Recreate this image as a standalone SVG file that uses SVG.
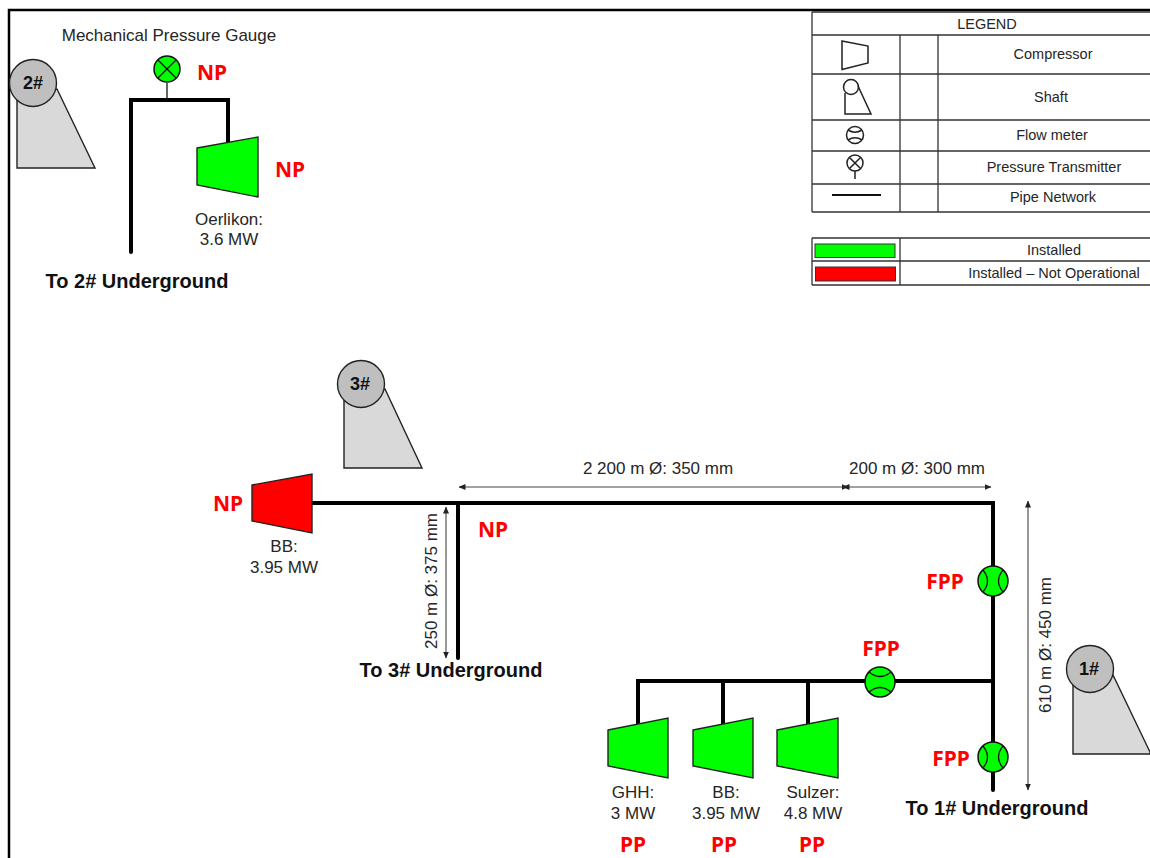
<svg xmlns="http://www.w3.org/2000/svg" width="1150" height="858" viewBox="0 0 1150 858">
<style>
text{font-family:"Liberation Sans",Arial,sans-serif;fill:#262626}
.l{font-size:17px;text-anchor:middle}
.lg{font-size:14.5px;text-anchor:middle}
.h{font-size:20px;font-weight:bold;text-anchor:middle;fill:#111}
.s{font-size:18px;font-weight:bold;text-anchor:middle;fill:#111}
.r{font-family:"Noto Sans","Open Sans",sans-serif;font-size:21px;font-weight:bold;text-anchor:middle;fill:#f00}
.pipe{fill:none;stroke:#000;stroke-width:4;stroke-linecap:round;stroke-linejoin:miter}
.grid{fill:none;stroke:#333;stroke-width:1.3}
.dim{fill:none;stroke:#444;stroke-width:1.1;marker-start:url(#a);marker-end:url(#a)}
.comp{fill:#0f0;stroke:#222;stroke-width:1.4}
.shaft{fill:#d9d9d9;stroke:#222;stroke-width:1.4}
.disc{fill:#bfbfbf;stroke:#222;stroke-width:1.4}
.meter{fill:#0f0;stroke:#111;stroke-width:1.5}
.thin{fill:none;stroke:#111;stroke-width:1.3}
.sym{fill:none;stroke:#222;stroke-width:1.5}
</style>
<defs>
<marker id="a" viewBox="0 0 7 7" refX="6.500" refY="3.500" markerWidth="7" markerHeight="7" orient="auto-start-reverse" markerUnits="userSpaceOnUse"><path d="M0 0.500L7 3.500L0 6.500Z" fill="#222"/></marker>
<g id="fv"><circle r="15" class="meter"/><path class="thin" d="M-10-11Q-1 0-10 11M10-11Q1 0 10 11"/></g>
</defs>
<rect width="1150" height="858" fill="#fff"/>
<path d="M9 858V10H1150" fill="none" stroke="#000" stroke-width="2.500"/>

<g id="connectors">
<path class="pipe" d="M131 252V100H228V143"/>
<path class="thin" d="M167 83V100"/>
<path class="pipe" d="M312 503H993V790"/>
<path class="pipe" d="M458 503V658"/>
<path class="pipe" d="M993 681H638V725"/>
<path class="pipe" d="M723 681V724M808 681V724"/>
<path class="dim" d="M446 507V658"/>
<path class="dim" d="M459 487H848"/>
<path class="dim" d="M843 487H991"/>
<path class="dim" d="M1028 501V790"/>
</g>

<g id="legend">
<path class="grid" d="M812 12H1150M812 35H1150M812 74H1150M812 120H1150M812 151H1150M812 184H1150M812 212H1150M812 12V212M900 35V212M938 35V212"/>
<text class="lg" x="987" y="29">LEGEND</text>
<text class="lg" x="1053" y="59">Compressor</text>
<text class="lg" x="1051" y="102">Shaft</text>
<text class="lg" x="1052" y="140">Flow meter</text>
<text class="lg" x="1054" y="172">Pressure Transmitter</text>
<text class="lg" x="1053" y="202">Pipe Network</text>
<path class="sym" d="M842 41L868 46V63L842 69.500Z"/>
<path class="sym" d="M845 93V114H871L858 86"/><circle class="sym" cx="851" cy="87" r="7.500"/>
<circle class="sym" cx="855" cy="135" r="8.500"/><path class="sym" d="M848 130Q855 134.500 862 130M848 140Q855 135.500 862 140"/>
<circle class="sym" cx="855" cy="163" r="8"/><path class="sym" d="M849.500 157.500L860.500 168.500M860.500 157.500L849.500 168.500M855 171V179"/>
<path d="M832 195H881" stroke="#111" stroke-width="1.800"/>
<path class="grid" d="M812 238H1150M812 261H1150M812 285H1150M812 238V285M900 238V285"/>
<rect x="815" y="244" width="80" height="13.500" fill="#0f0" stroke="#333"/>
<rect x="815.500" y="267" width="80" height="14" fill="#f00" stroke="#333"/>
<text class="lg" x="1054" y="255">Installed</text>
<text class="lg" x="1054" y="278">Installed – Not Operational</text>
</g>

<g id="shaft-2"><path class="shaft" d="M17 100V168H95L57 89Z"/><circle class="disc" cx="33" cy="83" r="23.500"/><text class="s" x="33" y="89">2#</text></g>
<g id="shaft-3"><path class="shaft" d="M344 400V468H422L385 389Z"/><circle class="disc" cx="361" cy="384" r="23.500"/><text class="s" x="360" y="390">3#</text></g>
<g id="shaft-1"><path class="shaft" d="M1073 680V754H1150V752L1113 675Z"/><circle class="disc" cx="1090" cy="669" r="23.500"/><text class="s" x="1089" y="675">1#</text></g>

<g id="gauge"><circle class="meter" cx="167" cy="69" r="13"/><path class="thin" d="M158 60L176 78M176 60L158 78"/>
<text class="l" x="169" y="41">Mechanical Pressure Gauge</text><text class="r" x="212" y="80">NP</text></g>

<g id="oerlikon"><path class="comp" d="M197 148L258 137V197L197 185Z"/><text class="r" x="290" y="177">NP</text>
<text class="l" x="229" y="225">Oerlikon:</text><text class="l" x="229" y="245">3.6 MW</text></g>
<text class="h" x="137" y="288">To 2# Underground</text>

<g id="bb-red"><path class="comp" style="fill:#f00" d="M252 485L312 474V533L252 521Z"/><text class="r" x="228" y="511">NP</text>
<text class="l" x="284" y="552">BB:</text><text class="l" x="284" y="573">3.95 MW</text></g>
<text class="r" x="493" y="537">NP</text>
<text class="h" x="451" y="677">To 3# Underground</text>
<text class="l" transform="translate(437 581) rotate(-90)">250 m Ø: 375 mm</text>
<text class="l" x="658" y="474">2 200 m Ø: 350 mm</text>
<text class="l" x="917" y="474">200 m Ø: 300 mm</text>
<text class="l" transform="translate(1051 645) rotate(-90)">610 m Ø: 450 mm</text>

<g id="fm-1"><use href="#fv" x="993" y="581"/><text class="r" x="945" y="589">FPP</text></g>
<g id="fm-2"><use href="#fv" transform="translate(880 682) rotate(90)"/><text class="r" x="881" y="656">FPP</text></g>
<g id="fm-3"><use href="#fv" x="993" y="757"/><text class="r" x="951" y="766">FPP</text></g>
<text class="h" x="997" y="815">To 1# Underground</text>

<g id="ghh"><path class="comp" d="M608 730L668 718V778L608 766Z"/><text class="l" x="633" y="798">GHH:</text><text class="l" x="633" y="819">3 MW</text><text class="r" x="633" y="852">PP</text></g>
<g id="bb"><path class="comp" d="M693 730L753 718V778L693 766Z"/><text class="l" x="726" y="798">BB:</text><text class="l" x="726" y="819">3.95 MW</text><text class="r" x="724" y="852">PP</text></g>
<g id="sulzer"><path class="comp" d="M777 730L838 718V778L777 766Z"/><text class="l" x="813" y="798">Sulzer:</text><text class="l" x="813" y="819">4.8 MW</text><text class="r" x="812" y="852">PP</text></g>
</svg>
